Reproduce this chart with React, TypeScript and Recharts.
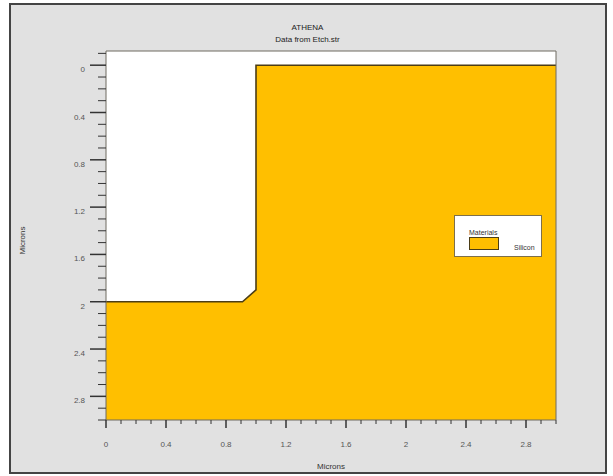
import React from "react"
import {
  ComposedChart,
  Area,
  XAxis,
  YAxis,
  CartesianGrid,
  ReferenceArea,
  Legend,
} from "recharts"

// Etched silicon profile: lateral position (microns) vs depth of the top surface
const surfaceX = [0, 0.91, 1.0, 1.0, 3.0]
const surfaceDepth = [2.0, 2.0, 1.9, 0, 0]

// tick positions, every 0.1 micron; the labelled ones are every 0.4
const xTicks = [
  0, 0.1, 0.2, 0.3, 0.4, 0.5, 0.6, 0.7, 0.8, 0.9, 1.0, 1.1, 1.2, 1.3, 1.4, 1.5,
  1.6, 1.7, 1.8, 1.9, 2.0, 2.1, 2.2, 2.3, 2.4, 2.5, 2.6, 2.7, 2.8, 2.9, 3.0,
]
const yTicks = [
  -0.1, 0, 0.1, 0.2, 0.3, 0.4, 0.5, 0.6, 0.7, 0.8, 0.9, 1.0, 1.1, 1.2, 1.3, 1.4,
  1.5, 1.6, 1.7, 1.8, 1.9, 2.0, 2.1, 2.2, 2.3, 2.4, 2.5, 2.6, 2.7, 2.8, 2.9, 3.0,
]
const majorTicks = [0, 0.4, 0.8, 1.2, 1.6, 2.0, 2.4, 2.8]
const majorLabels = ["0", "0.4", "0.8", "1.2", "1.6", "2", "2.4", "2.8"]

const FONT = "'Liberation Sans', Arial, sans-serif"
const SILICON = "#FFBF00"
const OUTLINE = "#4b3d16"

const surface = surfaceX.map((x, i) => ({ x, depth: surfaceDepth[i] }))

function majorLabel(v: number) {
  const i = majorTicks.findIndex((m) => Math.abs(m - v) < 1e-6)
  return i >= 0 ? majorLabels[i] : null
}

function YTick({ x, y, payload }: any) {
  const label = majorLabel(payload.value)
  const len = label ? 16 : 8
  return (
    <g>
      <line x1={x - len} x2={x} y1={y} y2={y} stroke="#333" strokeWidth={label ? 1.5 : 1} />
      {label && (
        <text x={x - 21} y={y + 7} textAnchor="end" fontSize={8} fill="#555" fontFamily={FONT}>
          {label}
        </text>
      )}
    </g>
  )
}

function XTick({ x, y, payload }: any) {
  const label = majorLabel(payload.value)
  const len = label ? 8 : 4
  return (
    <g>
      <line x1={x} x2={x} y1={y} y2={y + len} stroke="#333" strokeWidth={label ? 1.5 : 1} />
      {label && (
        <text x={x} y={y + 27} textAnchor="middle" fontSize={8} fill="#555" fontFamily={FONT}>
          {label}
        </text>
      )}
    </g>
  )
}

// rotated axis title, centred on the plot height
function YTitle({ viewBox }: any) {
  const cx = 25
  const cy = viewBox.y + viewBox.height / 2 + 5
  return (
    <text
      x={cx}
      y={cy}
      transform={`rotate(-90 ${cx} ${cy})`}
      textAnchor="middle"
      fontSize={8}
      fill="#333"
      fontFamily={FONT}
    >
      Microns
    </text>
  )
}

function MaterialsLegend({ payload }: any) {
  const item = payload && payload[0]
  return (
    <div
      style={{
        width: 88,
        height: 42,
        boxSizing: "border-box",
        border: "1px solid #7d6f4a",
        background: "#fff",
        position: "relative",
        fontFamily: FONT,
        fontSize: 7,
        color: "#333",
      }}
    >
      <span style={{ position: "absolute", left: 14, top: 13, lineHeight: "8px" }}>Materials</span>
      <div
        style={{
          position: "absolute",
          left: 14,
          top: 21,
          width: 30,
          height: 13,
          boxSizing: "border-box",
          background: SILICON,
          border: `1px solid ${OUTLINE}`,
        }}
      />
      <span style={{ position: "absolute", left: 59, top: 28, lineHeight: "8px" }}>
        {item ? item.value : "Silicon"}
      </span>
    </div>
  )
}

export default function App() {
  return (
    <div style={{ position: "absolute", left: 0, top: 0, width: 613, height: 476, background: "#fff" }}>
      {/* grey window frame */}
      <div
        style={{
          position: "absolute",
          left: 9,
          top: 3,
          width: 598,
          height: 471,
          boxSizing: "border-box",
          border: "2px solid #444",
          background: "#e1e1e1",
        }}
      />
      <div
        style={{
          position: "absolute",
          left: 0,
          width: 615,
          top: 22,
          textAlign: "center",
          fontFamily: FONT,
          fontSize: 8,
          color: "#222",
          lineHeight: "12px",
        }}
      >
        <div>ATHENA</div>
        <div>Data from Etch.str</div>
      </div>

      <div style={{ position: "absolute", left: 0, top: 0 }}>
        <ComposedChart
          width={613}
          height={476}
          data={surface}
          margin={{ top: 51, right: 57, bottom: 6, left: 20 }}
        >
          <CartesianGrid horizontal={false} vertical={false} fill="#fff" />
          <XAxis
            type="number"
            dataKey="x"
            domain={[0, 3.0]}
            ticks={xTicks}
            interval={0}
            allowDataOverflow
            height={50}
            tickSize={0}
            tickMargin={0}
            axisLine={false}
            tickLine={false}
            tick={<XTick />}
            label={{
              value: "Microns",
              position: "insideBottom",
              offset: 1,
              fontSize: 8,
              fill: "#333",
              fontFamily: FONT,
            }}
          />
          <YAxis
            type="number"
            reversed
            domain={[-0.12, 3.0]}
            ticks={yTicks}
            interval={0}
            allowDataOverflow
            width={86}
            tickSize={0}
            tickMargin={0}
            axisLine={false}
            tickLine={false}
            tick={<YTick />}
            label={{ value: "Microns", content: <YTitle /> }}
          />
          <Area
            type="linear"
            dataKey="depth"
            name="Silicon"
            baseValue={3.0}
            stroke={OUTLINE}
            strokeWidth={1.6}
            fill={SILICON}
            fillOpacity={1}
            dot={false}
            activeDot={false}
            isAnimationActive={false}
          />
          <ReferenceArea
            x1={0}
            x2={3.0}
            y1={-0.12}
            y2={3.0}
            fill="none"
            stroke="#6e6a60"
            strokeWidth={1}
            ifOverflow="visible"
          />
          <Legend
            layout="vertical"
            align="center"
            verticalAlign="middle"
            wrapperStyle={{ left: 454, top: 215, width: 88, height: 42 }}
            content={<MaterialsLegend />}
          />
        </ComposedChart>
      </div>
    </div>
  )
}
